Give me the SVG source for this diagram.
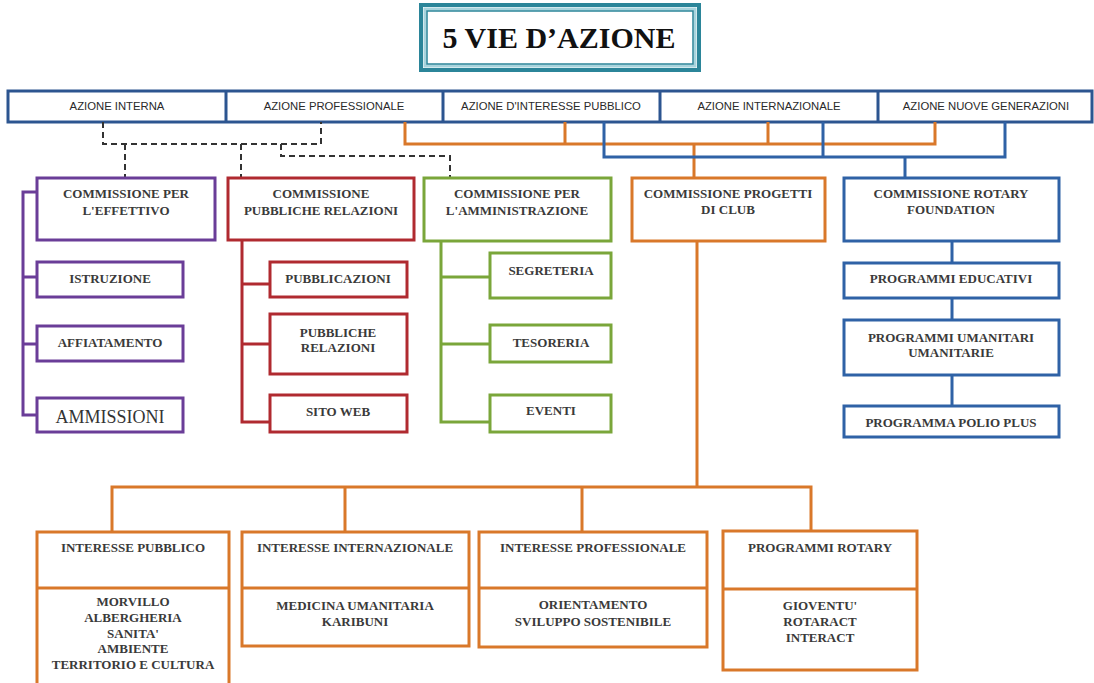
<svg xmlns="http://www.w3.org/2000/svg" width="1094" height="683" viewBox="0 0 1094 683">
<style>
.bx{fill:#fff;stroke-width:3}
.pu{stroke:#6a3d98}
.rd{stroke:#b02a30}
.gr{stroke:#7aa63a}
.or{stroke:#d9782a}
.bl{stroke:#2f62a6}
.hb{stroke:#2c5590}
.ln{fill:none;stroke-width:3}
.ds{fill:none;stroke:#333;stroke-width:2;stroke-dasharray:6 4}
.t{font-family:"Liberation Serif","Times New Roman",serif;font-weight:bold;font-size:13px;fill:#3a3a3a;text-anchor:middle}
.big{font-size:18px;font-weight:normal;fill:#333}
.h{font-family:"Liberation Sans",Arial,sans-serif;font-size:11.3px;fill:#2a2a2a;text-anchor:middle}
</style>
<rect width="1094" height="683" fill="#fff"/>

<g id="title">
<rect x="421" y="5" width="278" height="65" fill="#fff" stroke="#2b8599" stroke-width="4"/>
<rect x="425" y="9" width="270" height="57" fill="none" stroke="#a8d4dd" stroke-width="3"/>
<rect x="427" y="11" width="266" height="53" fill="#fff" stroke="#2b8599" stroke-width="1.5"/>
<text x="559" y="48" font-family="Liberation Serif,'Times New Roman',serif" font-weight="bold" font-size="30" fill="#111" text-anchor="middle">5 VIE D’AZIONE</text>
</g>

<g id="header">
<rect class="bx hb" x="8" y="91" width="1084" height="31"/>
<path class="ln hb" d="M226,91V122M443,91V122M660,91V122M878,91V122"/>
<text class="h" x="117" y="110">AZIONE INTERNA</text>
<text class="h" x="334" y="110">AZIONE PROFESSIONALE</text>
<text class="h" x="551" y="110">AZIONE D'INTERESSE PUBBLICO</text>
<text class="h" x="769" y="110">AZIONE INTERNAZIONALE</text>
<text class="h" x="986" y="110">AZIONE NUOVE GENERAZIONI</text>
</g>

<g id="connectors">
<path class="ds" d="M103,122V144H321V122M125,144V177M241,144V177M281,144V156H450V177"/>
<path class="ln or" d="M405,122V144H935V122M565,144V122M768,144V122M694,144V178"/>
<path class="ln bl" d="M604,122V157H1005V122M823,157V122M905,157V178"/>
<path class="ln pu" d="M37,192H23V415H37M23,277H37M23,344H37"/>
<path class="ln rd" d="M242,240V422H270M242,284H270M242,344H270"/>
<path class="ln gr" d="M441,241V422H490M441,277H490M441,344H490"/>
<path class="ln bl" d="M952,241V263M952,298V320M952,375V406"/>
<path class="ln or" d="M697,241V487M112,532V487H811V532M345,487V532M582,487V532"/>
</g>

<g id="comm-effettivo">
<rect class="bx pu" x="37" y="178" width="178" height="62"/>
<text class="t" x="126" y="198">COMMISSIONE PER</text>
<text class="t" x="126" y="215">L'EFFETTIVO</text>
</g>
<g id="istruzione">
<rect class="bx pu" x="37" y="262" width="146" height="35"/>
<text class="t" x="110" y="283">ISTRUZIONE</text>
</g>
<g id="affiatamento">
<rect class="bx pu" x="37" y="326" width="146" height="35"/>
<text class="t" x="110" y="347">AFFIATAMENTO</text>
</g>
<g id="ammissioni">
<rect class="bx pu" x="37" y="398" width="146" height="34"/>
<text class="t big" x="110" y="423">AMMISSIONI</text>
</g>

<g id="comm-pr">
<rect class="bx rd" x="228" y="178" width="186" height="62"/>
<text class="t" x="321" y="198">COMMISSIONE</text>
<text class="t" x="321" y="215">PUBBLICHE RELAZIONI</text>
</g>
<g id="pubblicazioni">
<rect class="bx rd" x="270" y="262" width="137" height="35"/>
<text class="t" x="338" y="283">PUBBLICAZIONI</text>
</g>
<g id="pubbliche-relazioni">
<rect class="bx rd" x="270" y="314" width="137" height="60"/>
<text class="t" x="338" y="337">PUBBLICHE</text>
<text class="t" x="338" y="352">RELAZIONI</text>
</g>
<g id="sito-web">
<rect class="bx rd" x="270" y="395" width="137" height="37"/>
<text class="t" x="338" y="416">SITO WEB</text>
</g>

<g id="comm-amministrazione">
<rect class="bx gr" x="424" y="178" width="187" height="63"/>
<text class="t" x="517" y="198">COMMISSIONE PER</text>
<text class="t" x="517" y="215">L'AMMINISTRAZIONE</text>
</g>
<g id="segreteria">
<rect class="bx gr" x="490" y="253" width="121" height="45"/>
<text class="t" x="551" y="275">SEGRETERIA</text>
</g>
<g id="tesoreria">
<rect class="bx gr" x="490" y="325" width="121" height="37"/>
<text class="t" x="551" y="347">TESORERIA</text>
</g>
<g id="eventi">
<rect class="bx gr" x="490" y="395" width="121" height="37"/>
<text class="t" x="551" y="415">EVENTI</text>
</g>

<g id="comm-club">
<rect class="bx or" x="632" y="178" width="193" height="63"/>
<text class="t" x="728" y="198">COMMISSIONE PROGETTI</text>
<text class="t" x="728" y="214">DI CLUB</text>
</g>

<g id="comm-rotary">
<rect class="bx bl" x="844" y="178" width="215" height="63"/>
<text class="t" x="951" y="198">COMMISSIONE ROTARY</text>
<text class="t" x="951" y="214">FOUNDATION</text>
</g>
<g id="educativi">
<rect class="bx bl" x="844" y="263" width="215" height="35"/>
<text class="t" x="951" y="283">PROGRAMMI EDUCATIVI</text>
</g>
<g id="umanitari">
<rect class="bx bl" x="844" y="320" width="215" height="55"/>
<text class="t" x="951" y="342">PROGRAMMI UMANITARI</text>
<text class="t" x="951" y="357">UMANITARIE</text>
</g>
<g id="polio">
<rect class="bx bl" x="844" y="406" width="215" height="31"/>
<text class="t" x="951" y="427">PROGRAMMA POLIO PLUS</text>
</g>

<g id="interesse-pubblico">
<rect class="bx or" x="37" y="532" width="192" height="160"/>
<path class="ln or" d="M37,588H229"/>
<text class="t" x="133" y="552">INTERESSE PUBBLICO</text>
<text class="t" x="133" y="606">MORVILLO</text>
<text class="t" x="133" y="622">ALBERGHERIA</text>
<text class="t" x="133" y="638">SANITA'</text>
<text class="t" x="133" y="653">AMBIENTE</text>
<text class="t" x="133" y="669">TERRITORIO E CULTURA</text>
</g>
<g id="interesse-internazionale">
<rect class="bx or" x="242" y="532" width="227" height="114"/>
<path class="ln or" d="M242,588H469"/>
<text class="t" x="355" y="552">INTERESSE INTERNAZIONALE</text>
<text class="t" x="355" y="610">MEDICINA UMANITARIA</text>
<text class="t" x="355" y="626">KARIBUNI</text>
</g>
<g id="interesse-professionale">
<rect class="bx or" x="479" y="532" width="228" height="115"/>
<path class="ln or" d="M479,588H707"/>
<text class="t" x="593" y="552">INTERESSE PROFESSIONALE</text>
<text class="t" x="593" y="609">ORIENTAMENTO</text>
<text class="t" x="593" y="626">SVILUPPO SOSTENIBILE</text>
</g>
<g id="programmi-rotary">
<rect class="bx or" x="723" y="531" width="194" height="139"/>
<path class="ln or" d="M723,589H917"/>
<text class="t" x="820" y="552">PROGRAMMI ROTARY</text>
<text class="t" x="820" y="610">GIOVENTU'</text>
<text class="t" x="820" y="626">ROTARACT</text>
<text class="t" x="820" y="642">INTERACT</text>
</g>
</svg>
